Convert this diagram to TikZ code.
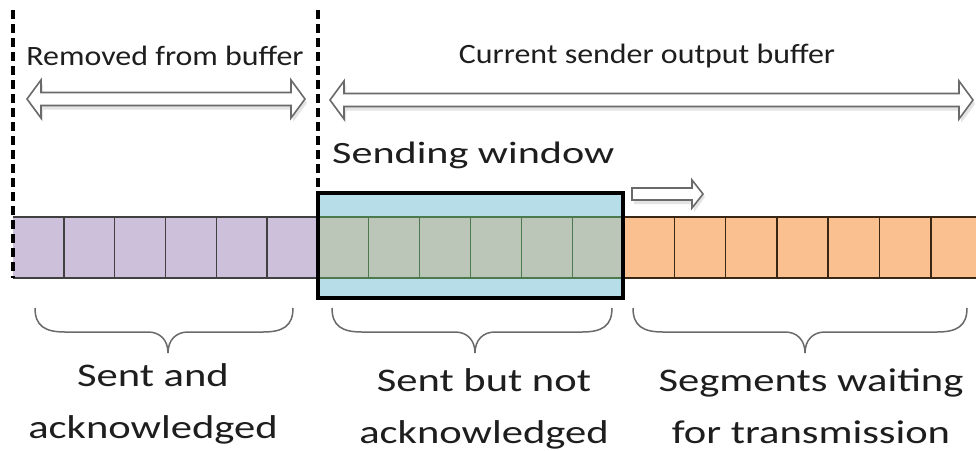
\documentclass[tikz,border=0pt]{standalone}
\usepackage{fontspec}
\setmainfont{Carlito}
\newfontfamily\toplabfont{Carlito}[FakeStretch=1.14]
\newfontfamily\winlabfont{Carlito}[FakeStretch=1.36]
\newfontfamily\botlabfont{Carlito}[FakeStretch=1.29]

\definecolor{ackfill}{HTML}{CCC0DA}
\definecolor{winfill}{HTML}{B7DEE8}
\definecolor{unackfill}{HTML}{BBC6B8}
\definecolor{waitfill}{HTML}{FAC090}
\definecolor{txt}{HTML}{1E1E1E}
\definecolor{outline}{HTML}{6A6A6A}

% hollow double-headed arrow: left tip x, right tip x, centre y
\newcommand\bufarrow[3]{%
  \fill[black!30, opacity=.35]
    (#1+2,#3+4) -- (#1+16,#3-15) -- (#1+16,#3-2.5) -- (#2-12,#3-2.5) -- (#2-12,#3-15)
    -- (#2+2,#3+4) -- (#2-12,#3+23) -- (#2-12,#3+10.5) -- (#1+16,#3+10.5) -- (#1+16,#3+23) -- cycle;
  \filldraw[arrowbody]
    (#1,#3) -- (#1+14,#3-19) -- (#1+14,#3-6.5) -- (#2-14,#3-6.5) -- (#2-14,#3-19)
    -- (#2,#3) -- (#2-14,#3+19) -- (#2-14,#3+6.5) -- (#1+14,#3+6.5) -- (#1+14,#3+19) -- cycle;
}
% curly brace under a group of segments: left x, right x, tip x
\newcommand\groupbrace[3]{%
  \draw[bracestyle] (#1,308) .. controls (#1,326) and (#1+10,332) .. (#1+30,332)
    -- (#3-20,332) .. controls (#3-8,332) and (#3,340) .. (#3,353)
    .. controls (#3,340) and (#3+8,332) .. (#3+20,332)
    -- (#2-30,332) .. controls (#2-10,332) and (#2,326) .. (#2,308);
}

\begin{document}
\begin{tikzpicture}[x=1pt,y=-1pt,
  arrowbody/.style={draw=outline, line width=1.6pt, fill=white, line join=miter},
  bracestyle/.style={draw=outline, line width=1.5pt},
  bufline/.style={draw=black, line width=3.2pt, dash pattern=on 9pt off 5pt},
  toplab/.style={inner sep=0pt, text=txt, font=\toplabfont\fontsize{28}{34}\selectfont},
  botlab/.style={inner sep=0pt, text=txt, align=center, font=\botlabfont\fontsize{33}{52}\selectfont},
  cellline/.style={line width=1.5pt}]
\useasboundingbox (0,0) rectangle (976,450);
\clip (0,0) rectangle (976,450);
\fill[white] (0,0) rectangle (976,450);

% sent and acknowledged segments
\fill[ackfill] (13,217) rectangle (318,278);
\foreach \i in {1,...,5} \draw[cellline, draw=black!75] (13+\i*50.83,217) -- (13+\i*50.83,278);
\draw[cellline, draw=black!75] (13,217) -- (318,217) (13,278) -- (318,278);

% waiting segments
\fill[waitfill] (623,217) rectangle (980,278);
\foreach \i in {1,...,6} \draw[cellline, draw=black!70!brown] (623+\i*51.3,217) -- (623+\i*51.3,278);
\draw[cellline, draw=black!70!brown] (623,217) -- (980,217) (623,278) -- (980,278);

% sending window with the unacknowledged segments
\fill[winfill] (318,193) rectangle (623,298);
\fill[unackfill] (318,217) rectangle (623,278);
\foreach \i in {1,...,5} \draw[line width=1.1pt, draw=black!55!green!40!gray] (318+\i*50.83,217) -- (318+\i*50.83,278);
\draw[line width=1.1pt, draw=black!55!green!40!gray] (318,217) -- (623,217) (318,278) -- (623,278);
\draw[line width=3.2pt, draw=black] (318,193) rectangle (623,298);

% buffer boundaries
\draw[bufline] (13,10) -- (13,278);
\draw[bufline] (318,10) -- (318,193);

% extents
\bufarrow{27}{305}{99}
\bufarrow{330}{973}{100}

% window movement
\fill[black!30, opacity=.35] (634,190) -- (694,190) -- (694,182) -- (705,197) -- (694,212) -- (694,204) -- (634,204) -- cycle;
\filldraw[arrowbody] (632,188) -- (692,188) -- (692,180) -- (703,194) -- (692,208) -- (692,200) -- (632,200) -- cycle;

% labels
\node[toplab, anchor=base] (removed) at (165,65) {Removed from buffer};
\node[toplab, anchor=base] (current) at (647,63) {Current sender output buffer};
\node[inner sep=0pt, text=txt, anchor=base west, font=\winlabfont\fontsize{31}{37}\selectfont] (window) at (332,163) {Sending window};

\groupbrace{35}{293}{168}
\groupbrace{332}{612}{475}
\groupbrace{633}{967}{805}

\node[botlab, anchor=base] (acked) at (153,438) {Sent and\\acknowledged};
\node[botlab, anchor=base] (unacked) at (484,443) {Sent but not\\acknowledged};
\node[botlab, anchor=base] (waiting) at (811,443) {Segments waiting\\for transmission};
\end{tikzpicture}
\end{document}
